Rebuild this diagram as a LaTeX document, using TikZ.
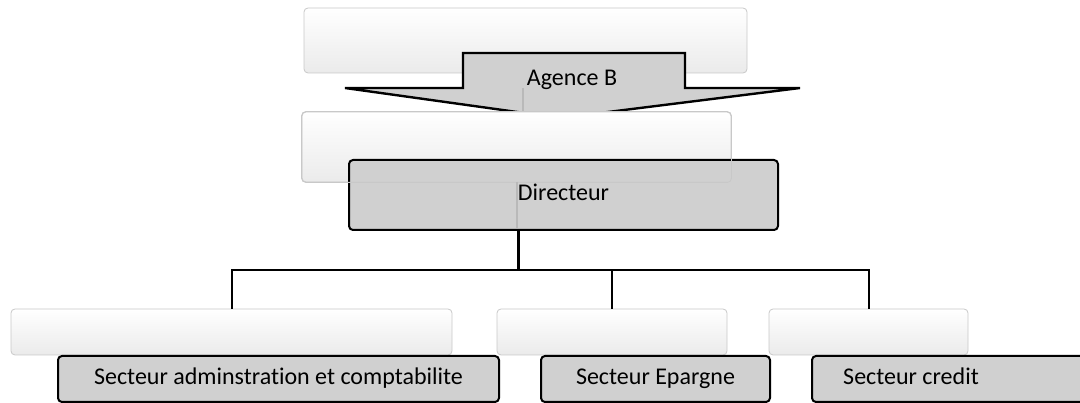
\documentclass[tikz,border=0pt]{standalone}
\usepackage{fontspec}
\setmainfont{Carlito}[Ligatures=CommonOff]
\definecolor{boxgray}{RGB}{208,208,208}
\definecolor{edgegray}{RGB}{200,200,200}
\tikzset{
  backbox/.style={draw=edgegray, line width=0.8pt, rounded corners=4pt,
    top color=white, middle color=white, bottom color=black!8, inner sep=0pt},
  frontbox/.style={draw=black, line width=2pt, rounded corners=4pt,
    fill=boxgray, inner sep=0pt, text height=16pt, text depth=5pt,
    font=\fontsize{24}{29}\selectfont},
  boxtext/.style={inner sep=0pt, text height=16pt, text depth=5pt,
    font=\fontsize{24}{29}\selectfont},
  link/.style={line width=2pt},
  trunk/.style={line width=3pt},
  seam/.style={gray!55, line width=1.2pt},
}
\begin{document}
\begin{tikzpicture}[x=1pt,y=-1pt]
\clip (0,0) rectangle (1080,403);
% agence
\node[backbox, minimum width=443, minimum height=65] (agenceback) at (525.5,40.5) {};
\draw[line width=2.4pt, fill=boxgray] (463,53) -- (685,53) -- (685,88) -- (800,88)
  -- (560,118) -- (345,88) -- (463,88) -- cycle;
\draw[seam] (523,88) -- (523,113);
\node[boxtext] (agence) at (572,80) {Agence B};
% directeur
\node[backbox, minimum width=429, minimum height=70] (dirback) at (516.5,147) {};
\node[frontbox, minimum width=429, minimum height=70] (dir) at (563.5,195) {Directeur};
\draw[edgegray, line width=0.8pt, rounded corners=4pt]
  (dirback.south west) rectangle (dirback.north east);
\draw[seam] (517,182) -- (517,228);
% secteurs
\node[backbox, minimum width=441, minimum height=46] (adminback) at (231.5,332) {};
\node[backbox, minimum width=230, minimum height=46] (epargneback) at (612,332) {};
\node[backbox, minimum width=199, minimum height=46] (creditback) at (868.5,332) {};
\node[frontbox, minimum width=441, minimum height=46] (admin) at (278.5,379)
  {Secteur adminstration et comptabilite};
\node[frontbox, minimum width=229, minimum height=46] (epargne) at (655.5,379)
  {Secteur Epargne};
\node[frontbox, minimum width=289, minimum height=46, anchor=west] (credit) at (811,379) {};
\node[boxtext] (credittext) at (911,379) {Secteur credit};
% liens
\coordinate (hub) at (518,270);
\draw[trunk] (dir.south -| hub) -- (hub);
\draw[link] (adminback.north) -- (adminback.north |- hub)
  -- (creditback.north |- hub) -- (creditback.north);
\draw[link] (epargneback.north |- hub) -- (epargneback.north);
\end{tikzpicture}
\end{document}
